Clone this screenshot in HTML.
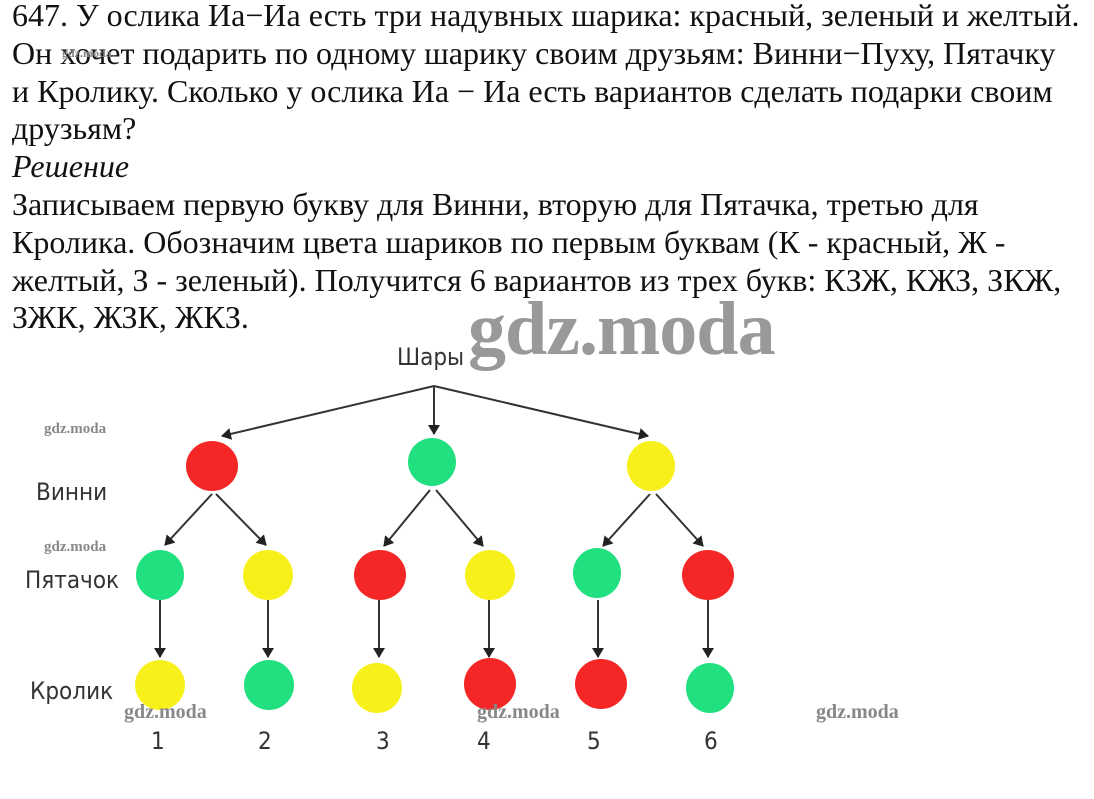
<!DOCTYPE html>
<html><head><meta charset="utf-8"><style>
body{margin:0;width:1094px;height:799px;background:#fff;overflow:hidden;position:relative}
.t{position:absolute;left:12px;top:-3px;font-family:"Liberation Serif",serif;font-size:32px;line-height:37.8px;color:#111;white-space:nowrap}
.l{position:absolute;font-family:"DejaVu Sans","Liberation Sans",sans-serif;font-size:24px;color:#333;transform:scaleX(0.9);transform-origin:left}
.w{position:absolute;font-family:"Liberation Serif",serif;font-weight:bold;color:#888;font-size:20px}
</style></head><body>
<div class="t">647. У ослика Иа−Иа есть три надувных шарика: красный, зеленый и желтый.<br>Он хочет подарить по одному шарику своим друзьям: Винни−Пуху, Пятачку<br>и Кролику. Сколько у ослика Иа − Иа есть вариантов сделать подарки своим<br>друзьям?<br><i>Решение</i><br>Записываем первую букву для Винни, вторую для Пятачка, третью для<br>Кролика. Обозначим цвета шариков по первым буквам (К - красный, Ж -<br>желтый, З - зеленый). Получится 6 вариантов из трех букв: КЗЖ, КЖЗ, ЗКЖ,<br>ЗЖК, ЖЗК, ЖКЗ.</div>
<div class="w" style="left:468px;top:286px;font-size:76px;color:#999;letter-spacing:-1px">gdz.moda</div>
<svg width="1094" height="799" style="position:absolute;left:0;top:0">
<defs><marker id="a" markerWidth="10" markerHeight="12" refX="9" refY="6" orient="auto" markerUnits="userSpaceOnUse"><path d="M0,0 L10,6 L0,12 z" fill="#222"/></marker></defs>
<g stroke="#333" stroke-width="2" marker-end="url(#a)">
<line x1="434" y1="386" x2="222" y2="436"/><line x1="434" y1="386" x2="434" y2="434"/><line x1="434" y1="386" x2="648" y2="436"/>
<line x1="212" y1="494" x2="165" y2="545"/><line x1="216" y1="494" x2="266" y2="545"/>
<line x1="430" y1="490" x2="384" y2="546"/><line x1="436" y1="490" x2="483" y2="546"/>
<line x1="650" y1="494" x2="603" y2="546"/><line x1="656" y1="494" x2="703" y2="546"/>
<line x1="160" y1="600" x2="160" y2="657"/><line x1="268" y1="600" x2="268" y2="657"/><line x1="379" y1="600" x2="379" y2="657"/><line x1="489" y1="600" x2="489" y2="657"/><line x1="598" y1="600" x2="598" y2="657"/><line x1="708" y1="600" x2="708" y2="657"/>
</g>
<g>
<ellipse cx="212" cy="466" rx="26" ry="25" fill="#f42626"/>
<ellipse cx="432" cy="462" rx="24" ry="24" fill="#20e080"/>
<ellipse cx="651" cy="466" rx="24" ry="25" fill="#f8f01a"/>
<ellipse cx="160" cy="575" rx="24" ry="25" fill="#20e080"/>
<ellipse cx="268" cy="575" rx="25" ry="25" fill="#f8f01a"/>
<ellipse cx="380" cy="575" rx="26" ry="25" fill="#f42626"/>
<ellipse cx="490" cy="575" rx="25" ry="25" fill="#f8f01a"/>
<ellipse cx="597" cy="573" rx="24" ry="25" fill="#20e080"/>
<ellipse cx="708" cy="575" rx="26" ry="25" fill="#f42626"/>
<ellipse cx="160" cy="685" rx="25" ry="25" fill="#f8f01a"/>
<ellipse cx="269" cy="685" rx="25" ry="25" fill="#20e080"/>
<ellipse cx="377" cy="688" rx="25" ry="25" fill="#f8f01a"/>
<ellipse cx="490" cy="684" rx="26" ry="26" fill="#f42626"/>
<ellipse cx="601" cy="684" rx="26" ry="25" fill="#f42626"/>
<ellipse cx="710" cy="688" rx="24" ry="25" fill="#20e080"/>
</g>
</svg>
<div class="l" style="left:397px;top:343px">Шары</div>
<div class="l" style="left:36px;top:478px">Винни</div>
<div class="l" style="left:25px;top:566px">Пятачок</div>
<div class="l" style="left:30px;top:677px">Кролик</div>
<div class="l" style="left:151px;top:727px">1</div>
<div class="l" style="left:258px;top:727px">2</div>
<div class="l" style="left:376px;top:727px">3</div>
<div class="l" style="left:477px;top:727px">4</div>
<div class="l" style="left:587px;top:727px">5</div>
<div class="l" style="left:704px;top:727px">6</div>
<div class="w" style="left:62px;top:46px;font-size:12px">gdz.moda</div>
<div class="w" style="left:44px;top:421px;font-size:15px">gdz.moda</div>
<div class="w" style="left:44px;top:539px;font-size:15px">gdz.moda</div>
<div class="w" style="left:124px;top:701px">gdz.moda</div>
<div class="w" style="left:477px;top:701px">gdz.moda</div>
<div class="w" style="left:816px;top:701px">gdz.moda</div>
</body></html>
